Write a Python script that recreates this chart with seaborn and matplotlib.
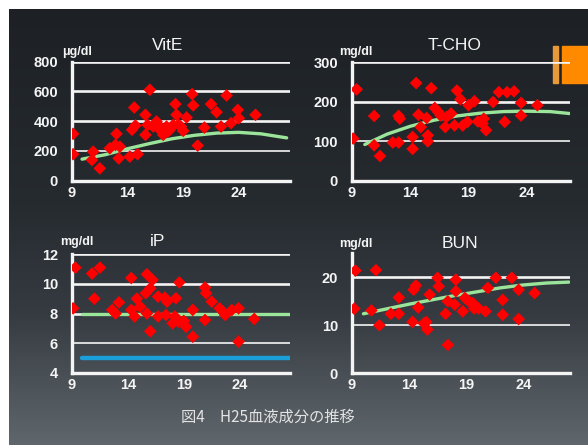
import numpy as np
import pandas as pd
import matplotlib
matplotlib.use("Agg")
import matplotlib.pyplot as plt
import seaborn as sns
from matplotlib.colors import LinearSegmentedColormap
from matplotlib.patches import Rectangle

# ---- data ----
vite_x = [9.1, 9.1, 10.9, 10.8, 11.5, 12.4, 12.9, 13.0, 13.3, 13.2, 14.2, 14.4, 14.6, 14.7, 14.9,
          15.6, 15.6, 15.8, 16.0, 16.3, 16.8, 17.2, 17.5, 17.8, 18.1, 18.3, 18.4, 18.6, 19.0, 19.3,
          19.8, 19.9, 20.3, 20.9, 21.5, 22.0, 22.4, 22.9, 23.3, 23.9, 24.0, 25.5, 16.6, 16.9, 17.6, 18.8]
vite_y = [315, 178, 195, 139, 83, 218, 240, 315, 229, 150, 162, 342, 492, 371, 178,
          443, 308, 375, 611, 364, 371, 308, 364, 342, 375, 515, 443, 375, 335, 425,
          582, 506, 236, 357, 515, 461, 364, 573, 387, 476, 420, 443, 398, 342, 330, 364]
vite_fit_x = [9.9, 12, 14, 16, 18, 20, 22, 24, 26, 28.3]
vite_fit_y = [145, 175, 215, 250, 282, 305, 320, 325, 315, 288]

tcho_x = [9.4, 9.1, 10.9, 10.9, 11.4, 12.5, 13.0, 13.0, 13.1, 14.2, 14.2, 14.5, 14.7, 14.9, 15.4,
          15.5, 15.5, 15.8, 16.1, 16.4, 16.6, 17.0, 17.1, 17.5, 17.8, 18.0, 18.3, 18.5, 18.9, 19.0,
          19.5, 20.3, 20.5, 21.1, 21.6, 22.1, 22.3, 22.9, 23.5, 23.5, 24.9, 19.8, 20.2]
tcho_y = [231, 107, 164, 90, 63, 97, 97, 164, 157, 111, 81, 247, 167, 136, 159,
          115, 100, 234, 184, 174, 165, 136, 161, 170, 140, 228, 206, 140, 149, 191,
          201, 157, 128, 199, 224, 149, 224, 226, 197, 165, 191, 150, 145]
tcho_fit_x = [10.1, 12, 14, 16, 18, 20, 22, 24, 26, 27.7]
tcho_fit_y = [92, 118, 138, 153, 164, 171, 175, 176, 175, 170]

ip_x = [9.3, 9.1, 10.8, 11.5, 11.0, 12.6, 12.9, 13.2, 14.3, 14.3, 14.6, 14.8, 15.1, 15.7, 16.2,
        15.6, 16.0, 15.7, 16.0, 16.7, 17.3, 17.5, 16.7, 17.4, 18.2, 18.0, 18.3, 18.6, 18.5, 19.0,
        19.2, 19.8, 19.8, 20.9, 21.0, 21.5, 20.9, 22.2, 22.5, 22.7, 23.3, 23.9, 23.9, 25.3]
ip_y = [11.1, 8.35, 10.7, 11.1, 9.0, 8.24, 8.0, 8.75, 10.4, 8.24, 7.8, 9.0, 8.46, 10.65, 10.27,
        9.37, 9.7, 8.0, 6.8, 9.14, 9.07, 8.8, 7.8, 7.9, 7.8, 7.34, 9.03, 10.1, 7.45, 7.5,
        7.1, 6.43, 8.24, 9.75, 9.37, 8.8, 7.56, 8.35, 8.12, 7.9, 8.24, 8.35, 6.1, 7.63]
ip_ref_x = [9.9, 28.5]
ip_upper = [8, 8]
ip_lower = [5, 5]

bun_x = [9.3, 9.2, 11.1, 11.4, 10.7, 12.4, 13.1, 13.1, 14.3, 14.4, 14.6, 14.8, 15.5, 15.6, 15.8,
         16.5, 16.6, 17.2, 17.4, 17.4, 18.1, 18.1, 18.0, 18.7, 18.9, 19.2, 19.6, 19.7, 20.1, 20.7,
         20.9, 21.6, 22.2, 22.2, 23.0, 23.6, 23.6, 25.0, 15.3]
bun_y = [21.4, 13.45, 21.5, 10.0, 13.1, 12.4, 12.4, 15.8, 10.7, 17.4, 18.3, 13.7, 10.7, 9.1, 16.4,
         19.9, 18.1, 12.4, 15.0, 5.9, 19.5, 17.1, 14.3, 12.9, 15.7, 15.1, 14.6, 13.5, 13.5, 12.9,
         17.8, 19.9, 15.3, 12.2, 19.9, 17.4, 11.3, 16.7, 10.4]
bun_fit_x = [10.0, 12, 14, 16, 18, 20, 22, 24, 26, 28.0]
bun_fit_y = [12.4, 13.4, 14.4, 15.3, 16.2, 17.0, 17.8, 18.4, 18.8, 19.0]

xticks = [9, 14, 19, 24]
caption = "図4　H25血液成分の推移"

# ---- style ----
sns.set_theme(style="ticks")
plt.rcParams['font.family'] = ['Liberation Sans', 'DejaVu Sans']

W, H = 588, 445
fig = plt.figure(figsize=(W / 100, H / 100), dpi=100, facecolor='white')


def fx(x):
    return x / W


def fy(y):
    return 1 - y / H


# dark gradient background (white strip top & left)
bg = fig.add_axes([fx(9), 0, fx(W - 9), 1 - 9 / H], zorder=-10)
cmap = LinearSegmentedColormap.from_list(
    'bg', [(0, '#1d2125'), (0.45, '#262b30'), (0.7, '#353b41'), (1, '#5f666c')])
bg.imshow(np.linspace(0, 1, 256).reshape(-1, 1), aspect='auto', cmap=cmap,
          extent=[0, 1, 0, 1], origin='upper')
bg.set_xlim(0, 1)
bg.set_ylim(0, 1)
bg.axis('off')
# orange marker in the top-right corner
bg.add_patch(Rectangle(((553 - 9) / 579, fy(83) / (1 - 9 / H)), 4.5 / 579, 37 / 436,
                       transform=bg.transAxes, color='#e89a3a', zorder=5))
bg.add_patch(Rectangle(((561.5 - 9) / 579, fy(83) / (1 - 9 / H)), 30 / 579, 37 / 436,
                       transform=bg.transAxes, color='#ff8a00', zorder=5))

WHITE = '#f4f4f4'
GREEN = '#9be59a'
RED = '#ff0000'


def panel(left, right, top_px, bot_px, xlim, ylim, yticks, xs, ys, title, tpos, unit, upos):
    ax = fig.add_axes([fx(left), fy(bot_px), fx(right - left), (bot_px - top_px) / H])
    ax.patch.set_alpha(0)
    for i, yv in enumerate(yticks[1:]):
        ax.axhline(yv, color=WHITE, lw=1.2 if i == 0 else 1.9, zorder=1)
    sns.scatterplot(x=xs, y=ys, ax=ax, marker='D', s=42, color=RED,
                    edgecolor='none', zorder=4, legend=False)
    ax.set_xlim(*xlim)
    ax.set_ylim(*ylim)
    ax.set_xticks(xticks)
    ax.set_yticks(yticks)
    ax.tick_params(axis='both', length=0, colors=WHITE, labelsize=10.5)
    ax.tick_params(axis='y', pad=10)
    ax.tick_params(axis='x', pad=3.5)
    for lab in ax.get_xticklabels() + ax.get_yticklabels():
        lab.set_fontweight('bold')
    for s in ['top', 'right']:
        ax.spines[s].set_visible(False)
    for s in ['left', 'bottom']:
        ax.spines[s].set_color(WHITE)
        ax.spines[s].set_linewidth(2.4)
        ax.spines[s].set_zorder(2)
    ax.set_xlabel('')
    ax.set_ylabel('')
    fig.text(fx(tpos[0]), fy(tpos[1]), title, color=WHITE, fontsize=12.5,
             ha='center', va='center')
    fig.text(fx(upos[0]), fy(upos[1]), unit, color=WHITE, fontsize=9,
             fontweight='bold', ha='left', va='center')
    return ax


ax1 = panel(72, 290, 61.7, 180.7, (9, 28.6), (0, 800), [0, 200, 400, 600, 800],
            vite_x, vite_y, 'VitE', (168, 45), 'μg/dl', (62, 52))
sns.lineplot(x=vite_fit_x, y=vite_fit_y, ax=ax1, color=GREEN, lw=2.4, zorder=3)

ax2 = panel(352, 570, 62, 181, (9, 27.7), (0, 300), [0, 100, 200, 300],
            tcho_x, tcho_y, 'T-CHO', (455, 45), 'mg/dl', (339, 52))
sns.lineplot(x=tcho_fit_x, y=tcho_fit_y, ax=ax2, color=GREEN, lw=2.4, zorder=3)

ax3 = panel(72, 290, 254.3, 372.7, (9, 28.5), (4, 12), [4, 6, 8, 10, 12],
            ip_x, ip_y, 'iP', (158, 241), 'mg/dl', (60, 242))
sns.lineplot(x=ip_ref_x, y=ip_upper, ax=ax3, color=GREEN, lw=2.4, zorder=3)
sns.lineplot(x=ip_ref_x, y=ip_lower, ax=ax3, color='#1a9fd9', lw=3.2, zorder=3)

ax4 = panel(352, 570, 253.3, 373.3, (9, 28.1), (0, 25), [0, 10, 20],
            bun_x, bun_y, 'BUN', (460, 243), 'mg/dl', (339, 244))
sns.lineplot(x=bun_fit_x, y=bun_fit_y, ax=ax4, color=GREEN, lw=2.4, zorder=3)

fig.text(fx(268), fy(417), caption, color='#e4e4e4', fontsize=11,
         family=['Noto Sans CJK JP', 'DejaVu Sans'], ha='center', va='center')

fig.savefig('out.png', dpi=100, facecolor='white')
